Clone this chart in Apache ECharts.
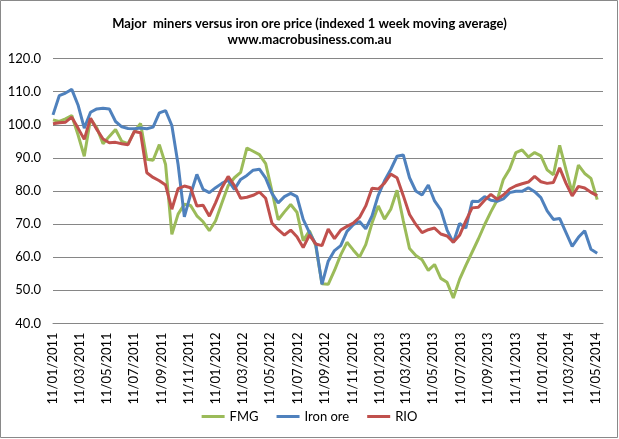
<!DOCTYPE html>
<html><head><meta charset="utf-8">
<script src="https://cdn.jsdelivr.net/npm/echarts@6/dist/echarts.min.js"></script>
<style>html,body{margin:0;padding:0;background:#fff}#c{width:619px;height:439px}</style>
</head><body><div id="c"></div>
<script>
// Sampling: one value every 14 days starting 11/01/2011
const startDate = [2011, 0, 11];
const stepDays = 14;

const tickLabels = ['11/01/2011','11/03/2011','11/05/2011','11/07/2011','11/09/2011','11/11/2011',
  '11/01/2012','11/03/2012','11/05/2012','11/07/2012','11/09/2012','11/11/2012',
  '11/01/2013','11/03/2013','11/05/2013','11/07/2013','11/09/2013','11/11/2013',
  '11/01/2014','11/03/2014','11/05/2014'];

const yTicks = [40, 50, 60, 70, 80, 90, 100, 110, 120];

const fmg = [101.5,101,101.8,102.8,97,90.5,101.8,99.1,94.3,96.5,
  98.6,95,94.3,97.9,100.4,89.6,89.3,94,88,66.9,
  73,76,75.6,72.5,70.7,68,71,76.4,81.6,84,
  85.6,93,92,91,88.3,80,71.3,73.7,75.9,73.6,
  65,68,63.5,52,51.8,56,60.7,64.5,62.2,60,
  63.8,70.3,75.5,71.5,74.5,80.2,71,62.6,60.5,59.2,
  56,57.8,53.6,52.4,47.7,53.3,57.5,61.5,65.5,69.8,
  73.7,77.2,83.5,86.6,91.6,92.4,90.3,91.6,90.6,86.4,
  84.9,93.8,86.5,79.5,87.8,85.3,83.8,77.4];

const ironOre = [103,108.8,109.6,110.7,106,99,103.8,104.8,105,104.8,
  101,99.4,98.9,98.8,99,98.8,99.3,103.6,104.3,99.8,
  88,72.2,79,85,80.5,79.5,81,82.3,83.3,80.5,
  83.5,84.7,86.3,86.6,83.9,79.3,76.4,78.3,79.3,78.3,
  71.4,67.4,64,51.8,58.8,62,63.5,67.8,69.8,70.8,
  68.6,72.5,78.7,83.1,86.5,90.5,90.9,84,80,78.8,
  81.8,77,74.3,68.2,64.4,70.2,68.8,76.9,76.8,78.3,
  77.2,76.9,77.6,79.5,79.9,79.9,81,79.8,78,74,
  71.4,71.7,67.5,63.3,66,68,62.4,61.2];

const rio = [100.3,100.6,100.8,102.3,99,95.6,102,98.6,95.7,94.6,
  94.7,94.3,94,98,97.6,85.5,84.1,83.1,81.8,74.5,
  80.7,81.5,81,75.5,75.7,72.4,76.5,81,84.4,81.6,
  77.8,78.1,78.7,79.7,77.8,70.3,68.3,66.7,68.2,66.2,
  62.9,66.7,64,63.5,68.5,65.6,68.2,69.3,70.3,72,
  75.5,80.8,80.6,82.4,85.1,84,78.6,72.9,69.9,67.4,
  68.3,68.8,67,66.4,64.5,66.6,71,74.9,75.1,77.2,
  79,77.5,78.8,80.6,81.6,82.2,82.7,84.4,82.8,82.3,
  82.6,87,82.4,78.5,81.4,80.9,79.6,78.6];

function parseDMY(s) { const p = s.split('/'); return new Date(+p[2], +p[1] - 1, +p[0]).getTime(); }
function pad(n) { return (n < 10 ? '0' : '') + n; }
const dates = fmg.map((_, i) => new Date(startDate[0], startDate[1], startDate[2] + i * stepDays).getTime());
const pairs = arr => arr.map((v, i) => [dates[i], v]);

const font = 'Lato, "Liberation Sans", sans-serif';
const chart = echarts.init(document.getElementById('c'), null, { renderer: 'canvas' });
chart.setOption({
  animation: false,
  backgroundColor: '#fff',
  title: {
    text: 'Major  miners versus iron ore price (indexed 1 week moving average)\nwww.macrobusiness.com.au',
    left: 'center', top: 11,
    textStyle: { fontFamily: font, fontSize: 13, fontWeight: 'bold', color: '#000', lineHeight: 16 }
  },
  graphic: [{ type: 'rect', shape: { x: 0.5, y: 0.5, width: 617, height: 437 },
    style: { fill: 'none', stroke: '#898989', lineWidth: 1 }, silent: true }],
  legend: {
    data: ['FMG', 'Iron ore', 'RIO'], top: 405, left: 'center',
    icon: 'rect', itemWidth: 23, itemHeight: 3, itemGap: 18,
    textStyle: { fontFamily: font, fontSize: 13, color: '#000' }
  },
  grid: { left: 53, right: 16, top: 58.6, bottom: 115.6, containLabel: false },
  xAxis: {
    type: 'value',
    min: parseDMY(tickLabels[0]),
    max: new Date(2014, 4, 26).getTime(),
    axisLine: { show: true, lineStyle: { color: '#868686', width: 1 } },
    axisTick: { show: false },
    splitLine: { show: false },
    axisLabel: {
      customValues: tickLabels.map(parseDMY),
      rotate: 90, margin: 9,
      fontFamily: font, fontSize: 13, color: '#000',
      formatter: v => { const d = new Date(v); return pad(d.getDate()) + '/' + pad(d.getMonth() + 1) + '/' + d.getFullYear(); }
    }
  },
  yAxis: {
    type: 'value', min: yTicks[0], max: yTicks[yTicks.length - 1], interval: 10,
    axisLine: { show: false }, axisTick: { show: false },
    splitLine: { lineStyle: { color: '#868686', width: 1 } },
    axisLabel: { margin: 12, fontFamily: font, fontSize: 13, color: '#000', formatter: v => v.toFixed(1) }
  },
  series: [
    { name: 'FMG', type: 'line', data: pairs(fmg), symbol: 'none', lineStyle: { width: 3, color: '#9BBB59' }, itemStyle: { color: '#9BBB59' } },
    { name: 'Iron ore', type: 'line', data: pairs(ironOre), symbol: 'none', lineStyle: { width: 3, color: '#4F81BD' }, itemStyle: { color: '#4F81BD' } },
    { name: 'RIO', type: 'line', data: pairs(rio), symbol: 'none', lineStyle: { width: 3, color: '#C0504D' }, itemStyle: { color: '#C0504D' } }
  ]
});
</script></body></html>
